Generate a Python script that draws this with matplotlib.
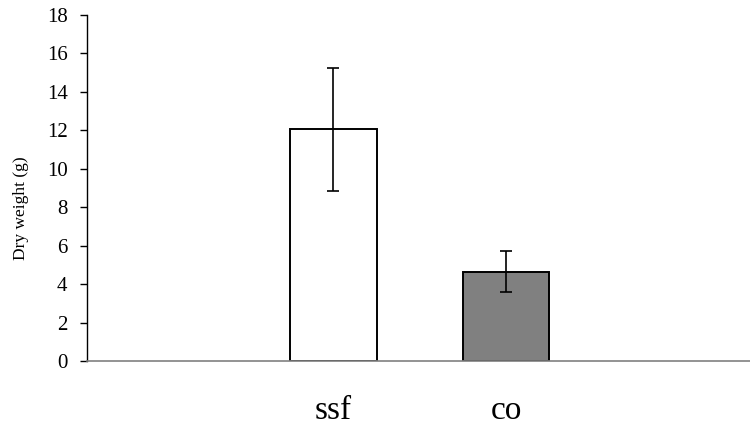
import matplotlib
matplotlib.use("Agg")
import matplotlib.pyplot as plt

categories = ["ssf", "co"]
values = [12.05, 4.65]
errors = [3.2, 1.05]
colors = ["white", "#808080"]
yticks = [0, 2, 4, 6, 8, 10, 12, 14, 16, 18]

plt.rcParams['font.family'] = ['Liberation Serif', 'DejaVu Serif']

fig = plt.figure(figsize=(7.5, 4.33), dpi=100)
ax = fig.add_axes([0.116, 0.1663, 0.884, 0.7991])

x = list(range(len(categories)))
ax.bar(x, values, width=0.5, color=colors, edgecolor="black", linewidth=1.4, zorder=2)
ax.errorbar(x, values, yerr=errors, fmt="none", ecolor="black", elinewidth=1.2,
            capsize=4.5, capthick=1.2, zorder=3)

ax.set_xlim(-1.425, 2.41)
ax.set_ylim(0, 18)
ax.set_yticks(yticks)
ax.set_yticklabels([str(t) for t in yticks], fontsize=15)
ax.set_xticks(x)
ax.set_xticklabels(categories, fontsize=24)
ax.tick_params(axis="x", length=0, pad=25)
ax.tick_params(axis="y", direction="out", length=5, width=1, pad=9)
ax.set_ylabel("Dry weight (g)", fontsize=12.5)
ax.yaxis.set_label_coords(-0.088, 0.442)

for s in ["top", "right"]:
    ax.spines[s].set_visible(False)
ax.spines["left"].set_color("black")
ax.spines["bottom"].set_color("#808080")
ax.spines["left"].set_linewidth(1)
ax.spines["bottom"].set_linewidth(1.2)

fig.savefig("out.png", dpi=100)
